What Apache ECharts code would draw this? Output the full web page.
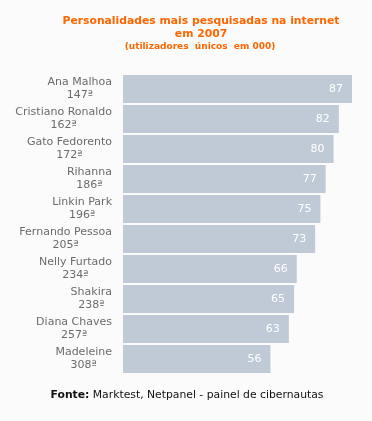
<!DOCTYPE html>
<html><head><meta charset="utf-8">
<script src="https://cdn.jsdelivr.net/npm/echarts@6/dist/echarts.min.js"></script>
<style>html,body{margin:0;padding:0;background:#fbfbfb;}#c{width:372px;height:421px;}</style>
</head><body><div id="c"></div>
<script>
const names = ["Ana Malhoa","Cristiano Ronaldo","Gato Fedorento","Rihanna","Linkin Park","Fernando Pessoa","Nelly Furtado","Shakira","Diana Chaves","Madeleine"];
const ranks = ["147ª","162ª","172ª","186ª","196ª","205ª","234ª","238ª","257ª","308ª"];
const values = [87,82,80,77,75,73,66,65,63,56];

const chart = echarts.init(document.getElementById('c'), null, {renderer:'canvas'});
const FF = 'DejaVu Sans';
chart.setOption({
  backgroundColor:'#fbfbfb',
  animation:false,
  graphic:[
    {type:'text', style:{x:201, y:16, text:'Personalidades mais pesquisadas na internet', align:'center', verticalAlign:'top',
      fill:'#ff6600', font:'bold 10.8px "DejaVu Sans"'}},
    {type:'text', style:{x:201, y:29, text:'em 2007', align:'center', verticalAlign:'top',
      fill:'#ff6600', font:'bold 10.8px "DejaVu Sans"'}},
    {type:'text', style:{x:200, y:42, text:'(utilizadores  únicos  em 000)', align:'center', verticalAlign:'top',
      fill:'#ff6600', font:'bold 9px "DejaVu Sans"'}},
    {type:'text', style:{x:187, y:390, text:'{b|Fonte:} Marktest, Netpanel - painel de cibernautas', align:'center', verticalAlign:'top',
      fill:'#111', font:'10.8px "DejaVu Sans"', rich:{b:{fontWeight:'bold', fontFamily:FF, fontSize:10.8, fill:'#111'}}}}
  ],
  grid:{left:123, top:74, width:229, height:300},
  xAxis:{type:'value', min:0, max:87, show:false},
  yAxis:{type:'category', inverse:true, data:names,
    axisLine:{show:false}, axisTick:{show:false}, splitLine:{show:false},
    axisLabel:{margin:11, formatter:(v,i)=>'{n|'+v+'}\n{r|'+ranks[i]+'}',
      rich:{n:{align:'center', fontFamily:FF, fontSize:11, color:'#6b6b6b', lineHeight:13},
            r:{align:'center', fontFamily:FF, fontSize:11, color:'#6b6b6b', lineHeight:13}}}},
  series:[{type:'bar', data:values, barCategoryGap:'6.67%',
    itemStyle:{color:'#bfcad6'},
    label:{show:true, position:'insideRight', distance:9, color:'#fff', fontFamily:FF, fontSize:11}}]
});
</script></body></html>
